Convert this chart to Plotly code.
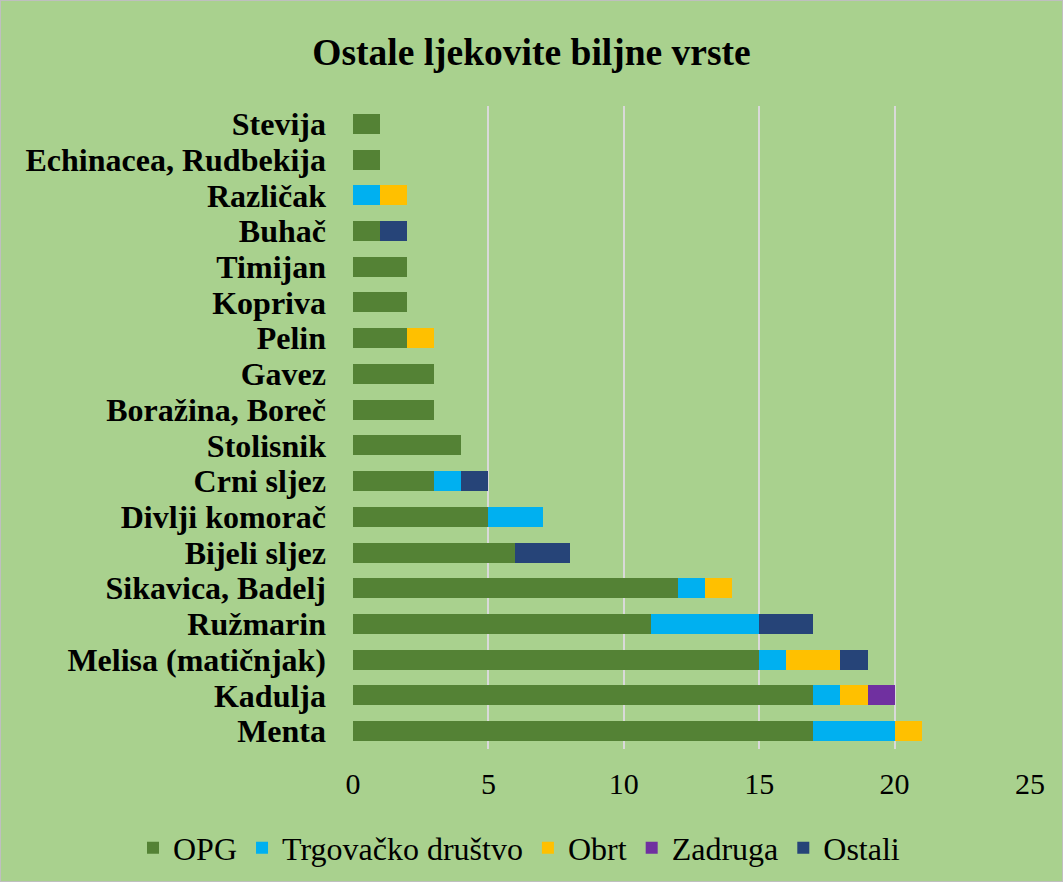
import plotly.graph_objects as go

categories = ["Stevija", "Echinacea, Rudbekija", "Različak", "Buhač", "Timijan", "Kopriva",
              "Pelin", "Gavez", "Boražina, Boreč", "Stolisnik", "Crni sljez", "Divlji komorač",
              "Bijeli sljez", "Sikavica, Badelj", "Ružmarin", "Melisa (matičnjak)", "Kadulja", "Menta"]
opg =      [1, 1, 0, 1, 2, 2, 2, 3, 3, 4, 3, 5, 6, 12, 11, 15, 17, 17]
trgovacko = [0, 0, 1, 0, 0, 0, 0, 0, 0, 0, 1, 2, 0, 1, 4, 1, 1, 3]
obrt =     [0, 0, 1, 0, 0, 0, 1, 0, 0, 0, 0, 0, 0, 1, 0, 2, 1, 1]
zadruga =  [0, 0, 0, 0, 0, 0, 0, 0, 0, 0, 0, 0, 0, 0, 0, 0, 1, 0]
ostali =   [0, 0, 0, 1, 0, 0, 0, 0, 0, 0, 1, 0, 2, 0, 2, 1, 0, 0]
x_ticks = [0, 5, 10, 15, 20, 25]

series = [
    ("OPG", opg, "#548235"),
    ("Trgovačko društvo", trgovacko, "#00B0F0"),
    ("Obrt", obrt, "#FFC000"),
    ("Zadruga", zadruga, "#7030A0"),
    ("Ostali", ostali, "#264478"),
]

fig = go.Figure()
for name, vals, color in series:
    fig.add_trace(go.Bar(
        y=categories, x=vals, name=name, orientation="h",
        marker=dict(color=color, line=dict(width=0)),
    ))

L, R, T, B = 353, 33, 106, 133
PW, PH = 1063 - L - R, 882 - T - B

font_family = "Liberation Serif, Times New Roman, serif"
fig.update_layout(
    barmode="stack",
    bargap=0.44,
    width=1063, height=882,
    paper_bgcolor="#A9D18E",
    plot_bgcolor="#A9D18E",
    font=dict(family=font_family, size=30, color="black"),
    margin=dict(l=L, r=R, t=T, b=B, autoexpand=False),
    title=dict(text="<b>Ostale ljekovite biljne vrste</b>", x=0.5, xanchor="center",
               xref="container", y=1 - 52 / 882, yref="container", yanchor="middle",
               font=dict(size=37.5, family=font_family, color="black")),
    legend=dict(orientation="h", x=(133 - L) / PW, xanchor="left", xref="paper",
                y=((882 - B) - 848) / PH, yref="paper", yanchor="middle",
                font=dict(size=32, family=font_family), itemwidth=30,
                traceorder="normal", bgcolor="rgba(0,0,0,0)"),
    xaxis=dict(range=[0, 25], tickvals=x_ticks, showgrid=True, gridcolor="#D9D9D9",
               gridwidth=2, zeroline=False, showline=False, ticks="", ticklen=0,
               tickfont=dict(size=30, family=font_family)),
    yaxis=dict(categoryorder="array", categoryarray=categories, autorange="reversed",
               tickmode="array", tickvals=categories,
               ticktext=["<b>" + c + "</b>" for c in categories],
               showgrid=False, showline=False, ticks="",
               tickfont=dict(size=32, family=font_family)),
)
fig.update_yaxes(ticklabelstandoff=26)
fig.update_xaxes(ticklabelstandoff=14)

fig.add_shape(type="rect", xref="paper", yref="paper", x0=-L / PW, x1=1 + R / PW,
              y0=-B / PH, y1=1 + T / PH, line=dict(color="#BFBFBF", width=2), layer="above")

fig.write_html("out.html", config={"displayModeBar": False},
               post_script="document.body.style.margin='0';document.body.style.overflow='hidden';")
